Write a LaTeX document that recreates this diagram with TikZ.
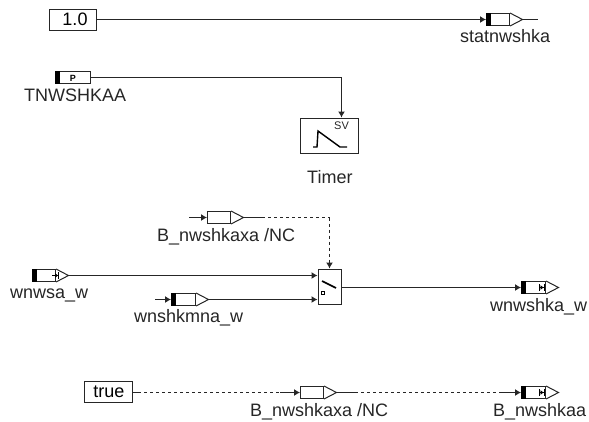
\documentclass[tikz,border=0pt]{standalone}
\usepackage{fontspec}
\setmainfont{Liberation Sans}
\usetikzlibrary{arrows.meta}
\tikzset{
	wire/.style={line width=1pt,draw=black!85},
	wiretip/.style={wire,-{Latex[length=6pt,width=7pt]}},
	sigbody/.style={draw=black!85,line width=1pt,minimum height=12pt,inner sep=0pt,anchor=west},
	constbox/.style={draw=black!85,line width=1pt,inner sep=0pt,font=\fontsize{18}{20}\selectfont},
	lbl/.style={anchor=base west,inner sep=0pt,text=black!85,font=\fontsize{18}{20}\selectfont},
	glyph/.style={line width=0.9pt,-{Latex[length=3pt,width=5pt] Bar[width=7pt]}}
}
\begin{document}
\begin{tikzpicture}[x=1pt,y=-1pt]
\useasboundingbox (0,0) rectangle (589,421);
				% constants
				\node[constbox,minimum width=47pt,minimum height=21pt] (one) at (72.5,19.5) {\hspace*{5pt}1.0};
				\node[constbox,minimum width=48pt,minimum height=21pt] (tru) at (108,391.5) {\hspace*{2pt}true};
				
				% signal blocks: name/left/centre/body width
				\foreach \n/\x/\y/\w in {stat/486/19.5/23, tnw/55/77.5/35, kaxa/207/217.5/23, wsa/32/275.5/23, mna/171/299.5/24, wsh/521/287.5/24, kaxb/300/392.5/23, kaa/521/392.5/24} {
					\node[sigbody,minimum width=\w pt] (\n) at (\x,\y) {};
				}
				% triangles on the output side
				\foreach \n in {stat,kaxa,wsa,mna,wsh,kaxb,kaa} {
					\draw[wire,line join=miter] (\n.north east) -- ([xshift=12.5pt]\n.east) coordinate (\n out) -- (\n.south east);
				}
				% black bars
				\foreach \n in {stat,tnw,wsa,mna,wsh,kaa} {
					\fill[black] (\n.north west) rectangle ([xshift=5pt]\n.south west);
				}
				% timer and switch
				\node[draw=black!85,line width=1pt,minimum width=58pt,minimum height=35pt,inner sep=0pt] (timer) at (329,135.5) {};
				\node[draw=black!85,line width=1pt,minimum width=23pt,minimum height=35pt,inner sep=0pt] (sw) at (329.5,286.5) {};
				\draw[line width=1.4pt] (313,147) -- (317,147) -- (318,131) -- (340,147) -- (347,147);
				\node[inner sep=0pt,text=black!85,font=\fontsize{11}{12}\selectfont] (sv) at (341.5,126) {SV};
				\draw[line width=1.6pt] (322,281) -- (336,288);
				\draw[line width=1pt] (321.5,291.5) rectangle (324.5,294.5);
				% icons inside the blocks
				\node[inner sep=0pt,font=\bfseries\fontsize{9}{9}\selectfont] (picon) at (73,78) {P};
				\draw[glyph] ([xshift=14pt]wsa.center) ++(-6,0) -- ++(7,0);
				\foreach \n in {wsh,kaa} {
					\draw[line width=0.9pt,{Bar[width=7pt]}-{Latex[length=3pt,width=5pt] Bar[width=7pt]}] ([xshift=5pt]\n.center) -- ([xshift=11pt]\n.center);
				}
				
				% connectors
				\draw[wiretip] (one.east) -- (stat.west);
				\coordinate (statend) at (538,19.5);
				\draw[wire] (statout) -- (statend);
				\coordinate (bend) at (341.5,77.5);
				\draw[wire] (tnw.east) -- (bend);
				\draw[wiretip] (bend) -- (timer.north -| bend);
				
				\coordinate (kaxastart) at (189,217.5);
				\coordinate (mnastart) at (155,299.5);
				\draw[wiretip] (kaxastart) -- (kaxa.west);
				\draw[wiretip] (mnastart) -- (mna.west);
				\coordinate (kaxastub) at (262,217.5);
				\coordinate (swtop) at (329.5,217.5);
				\draw[wire] (kaxaout) -- (kaxastub);
				\draw[wire,dashed,dash pattern=on 3pt off 3pt] (kaxastub) -- (swtop);
				\draw[wire,dashed,dash pattern=on 3pt off 3pt,-{Latex[length=6pt,width=7pt]}] (swtop) -- (sw.north -| swtop);
				\draw[wiretip] (wsaout) -- (wsaout -| sw.west);
				\draw[wiretip] (mnaout) -- (mnaout -| sw.west);
				\draw[wiretip] (sw.east |- wsh) -- (wsh.west);
				
				\coordinate (truestub) at (138,392.5);
				\coordinate (truedash) at (280,392.5);
				\coordinate (kaxbstub) at (355,392.5);
				\coordinate (kaxbdash) at (500,392.5);
				\draw[wire] (tru.east |- truestub) -- (truestub);
				\draw[wire,dashed,dash pattern=on 3pt off 3pt] (truestub) -- (truedash);
				\draw[wiretip] (truedash) -- (kaxb.west);
				\draw[wire] (kaxbout) -- (kaxbstub);
				\draw[wire,dashed,dash pattern=on 3pt off 3pt] (kaxbstub) -- (kaxbdash);
				\draw[wiretip] (kaxbdash) -- (kaa.west);
				
				% labels
				\node[lbl] (statlbl) at (460,42) {statnwshka};
				\node[lbl] (tnwlbl) at (24,101) {TNWSHKAA};
				\node[lbl] (timerlbl) at (307,183) {Timer};
				\node[lbl] (kaxalbl) at (157,241) {B\_nwshkaxa /NC};
				\node[lbl] (wsalbl) at (10,298) {wnwsa\_w};
				\node[lbl] (mnalbl) at (134,322) {wnshkmna\_w};
				\node[lbl] (wshlbl) at (490,311) {wnwshka\_w};
				\node[lbl] (kaxblbl) at (250,416) {B\_nwshkaxa /NC};
				\node[lbl] (kaalbl) at (493,416) {B\_nwshkaa};
		\end{tikzpicture}
\end{document}
